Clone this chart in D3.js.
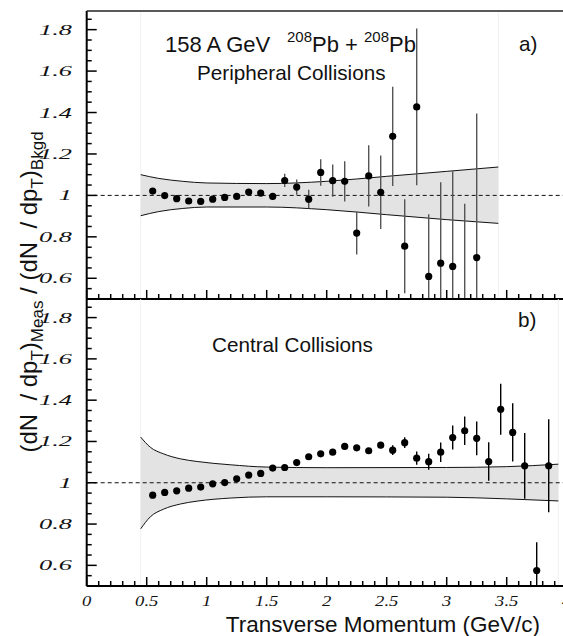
<!DOCTYPE html>
<html>
<head>
<meta charset="utf-8">
<script src="https://cdn.jsdelivr.net/npm/d3@7"></script>
<style>
  body { margin: 0; background: #fff; }
  svg { display: block; }
  .lbl { font-family: "Liberation Sans", Arial, sans-serif; fill: #111; white-space: pre; }
  .tick { font-family: "Liberation Serif", "Times New Roman", serif; font-style: italic; fill: #111; }
</style>
</head>
<body>
<div id="chart"></div>
<script>
// pT bin centres
const ptA = [0.55, 0.65, 0.75, 0.85, 0.95, 1.05, 1.15, 1.25, 1.35, 1.45, 1.55, 1.65, 1.75, 1.85, 1.95, 2.05,
  2.15, 2.25, 2.35, 2.45, 2.55, 2.65, 2.75, 2.85, 2.95, 3.05, 3.15, 3.25];
const ratioA = [1.021, 0.999, 0.984, 0.973, 0.971, 0.982, 0.990, 0.995, 1.016, 1.011, 0.995, 1.072, 1.040, 0.982,
  1.111, 1.071, 1.068, 0.818, 1.094, 1.015, 1.285, 0.755, 1.427, 0.609, 0.673, 0.657, 0.45, 0.700];
const errA = [0.006, 0.005, 0.005, 0.005, 0.005, 0.005, 0.006, 0.006, 0.008, 0.010, 0.016, 0.032, 0.037, 0.045,
  0.064, 0.078, 0.097, 0.103, 0.148, 0.177, 0.240, 0.227, 0.378, 0.30, 0.39, 0.46, 0.51, 0.695];

const ptB = [0.55, 0.65, 0.75, 0.85, 0.95, 1.05, 1.15, 1.25, 1.35, 1.45, 1.55, 1.65, 1.75, 1.85, 1.95, 2.05,
  2.15, 2.25, 2.35, 2.45, 2.55, 2.65, 2.75, 2.85, 2.95, 3.05, 3.15, 3.25, 3.35, 3.45, 3.55, 3.65, 3.75, 3.85];
const ratioB = [0.940, 0.953, 0.961, 0.974, 0.979, 0.995, 1.001, 1.019, 1.037, 1.045, 1.071, 1.074, 1.098, 1.126,
  1.140, 1.148, 1.176, 1.169, 1.155, 1.182, 1.158, 1.194, 1.119, 1.102, 1.148, 1.219, 1.252, 1.215, 1.103,
  1.356, 1.244, 1.082, 0.575, 1.082];
const errB = [0.003, 0.003, 0.003, 0.003, 0.003, 0.003, 0.004, 0.004, 0.004, 0.005, 0.005, 0.006, 0.007, 0.008,
  0.009, 0.010, 0.011, 0.012, 0.013, 0.015, 0.024, 0.026, 0.032, 0.039, 0.047, 0.058, 0.069, 0.082, 0.093,
  0.124, 0.141, 0.159, 0.137, 0.225];

// background uncertainty bands
const bandPtA = [0.45, 0.6, 0.8, 1.0, 1.5, 2.0, 2.5, 3.0, 3.43];
const bandHiA = [1.100, 1.082, 1.068, 1.060, 1.057, 1.068, 1.092, 1.116, 1.137];
const bandLoA = [0.902, 0.922, 0.937, 0.944, 0.944, 0.931, 0.907, 0.883, 0.865];

const bandPtB = [0.45, 0.53, 0.64, 0.78, 0.92, 1.2, 1.5, 2.0, 3.0, 3.5, 3.93];
const bandHiB = [1.221, 1.172, 1.140, 1.116, 1.103, 1.087, 1.076, 1.073, 1.074, 1.078, 1.090];
const bandLoB = [0.777, 0.835, 0.872, 0.897, 0.911, 0.926, 0.932, 0.932, 0.930, 0.922, 0.912];

const xMajor = [0, 0.5, 1, 1.5, 2, 2.5, 3, 3.5, 4];
const yMajor = [0.6, 0.8, 1, 1.2, 1.4, 1.6, 1.8];

const W = 563, H = 636;
const svg = d3.select('#chart').append('svg').attr('width', W).attr('height', H);

const x = d3.scaleLinear().domain([0, 4]).range([86.7, 566.7]);
const yA = d3.scaleLinear().domain([0.5, 1.89]).range([299, 11]);
const yB = d3.scaleLinear().domain([0.5, 1.89]).range([586, 299]);

function panel(id, y, pts, vals, errs, bPt, bHi, bLo, errColor) {
  const top = y.range()[1], bot = y.range()[0];
  svg.append('clipPath').attr('id', id)
    .append('rect').attr('x', x(0)).attr('y', top).attr('width', x(4) - x(0)).attr('height', bot - top);
  const g = svg.append('g').attr('clip-path', 'url(#' + id + ')');

  const band = bPt.map((p, i) => ({ p: p, hi: bHi[i], lo: bLo[i] }));
  // faint edges of the band down to the axis
  [bPt[0], bPt[bPt.length - 1]].forEach(p => {
    g.append('line').attr('x1', x(p)).attr('x2', x(p)).attr('y1', top).attr('y2', bot)
      .attr('stroke', '#f0f0f0').attr('stroke-width', 1);
  });
  g.append('path').datum(band)
    .attr('d', d3.area().x(d => x(d.p)).y0(d => y(d.lo)).y1(d => y(d.hi)).curve(d3.curveMonotoneX))
    .attr('fill', '#e3e3e3');
  ['hi', 'lo'].forEach(k => {
    g.append('path').datum(band)
      .attr('d', d3.line().x(d => x(d.p)).y(d => y(d[k])).curve(d3.curveMonotoneX))
      .attr('fill', 'none').attr('stroke', '#111').attr('stroke-width', 1);
  });

  g.append('line').attr('x1', x(0)).attr('x2', x(4)).attr('y1', y(1)).attr('y2', y(1))
    .attr('stroke', '#111').attr('stroke-width', 1).attr('stroke-dasharray', '4,3');

  const data = pts.map((p, i) => ({ p: p, v: vals[i], e: errs[i] }));
  g.selectAll('.err').data(data).enter().append('line')
    .attr('x1', d => x(d.p)).attr('x2', d => x(d.p))
    .attr('y1', d => y(d.v - d.e)).attr('y2', d => y(d.v + d.e))
    .attr('stroke', errColor).attr('stroke-width', 1.4);
  g.selectAll('.pt').data(data).enter().append('circle')
    .attr('cx', d => x(d.p)).attr('cy', d => y(d.v)).attr('r', 3.6).attr('fill', '#000');

  // inward ticks
  const yMinor = d3.range(0.5, 1.9, 0.05).map(v => +v.toFixed(2));
  yMinor.forEach(v => {
    const major = yMajor.includes(v);
    svg.append('line').attr('x1', x(0)).attr('x2', x(0) + (major ? 10 : 5))
      .attr('y1', y(v)).attr('y2', y(v)).attr('stroke', '#000').attr('stroke-width', 1.5);
  });
  d3.range(0, 4.01, 0.1).map(v => +v.toFixed(1)).forEach(v => {
    const major = xMajor.includes(v);
    svg.append('line').attr('x1', x(v)).attr('x2', x(v))
      .attr('y1', bot).attr('y2', bot - (major ? 9 : 5)).attr('stroke', '#000').attr('stroke-width', 1.5);
  });
  // wide italic tick labels
  svg.selectAll(null).data(yMajor).enter().append('text').attr('class', 'tick')
    .attr('transform', d => 'translate(72,' + (y(d) + 5) + ') scale(1.7,1)')
    .attr('text-anchor', 'end').attr('font-size', 15.5)
    .text(d => d3.format('~g')(d));

  svg.append('line').attr('x1', x(0)).attr('x2', x(0)).attr('y1', top).attr('y2', bot)
    .attr('stroke', '#000').attr('stroke-width', 2);
  svg.append('line').attr('x1', x(0)).attr('x2', x(4)).attr('y1', bot).attr('y2', bot)
    .attr('stroke', '#000').attr('stroke-width', 2);
}

panel('clipA', yA, ptA, ratioA, errA, bandPtA, bandHiA, bandLoA, '#555');
panel('clipB', yB, ptB, ratioB, errB, bandPtB, bandHiB, bandLoB, '#000');

// top frame line
svg.append('line').attr('x1', x(0)).attr('x2', x(4)).attr('y1', 11).attr('y2', 11)
  .attr('stroke', '#222').attr('stroke-width', 1.5);

// x tick labels
svg.selectAll(null).data(xMajor).enter().append('text').attr('class', 'tick')
  .attr('transform', d => 'translate(' + x(d) + ',606) scale(1.2,1)')
  .attr('text-anchor', 'middle').attr('font-size', 15.5)
  .text(d => d3.format('~g')(d));

// annotations
const t1 = svg.append('text').attr('class', 'lbl').attr('y', 52).attr('font-size', 22);
t1.append('tspan').attr('x', 165).text('158 A GeV');
t1.append('tspan').attr('x', 287).attr('font-size', 15).attr('dy', -10).text('208');
t1.append('tspan').attr('dy', 10).text('Pb + ');
t1.append('tspan').attr('font-size', 15).attr('dy', -10).text('208');
t1.append('tspan').attr('dy', 10).text('Pb');

svg.append('text').attr('class', 'lbl').attr('x', 197).attr('y', 80).attr('font-size', 20.7).text('Peripheral Collisions');
svg.append('text').attr('class', 'lbl').attr('x', 519).attr('y', 51).attr('font-size', 20.7).text('a)');
svg.append('text').attr('class', 'lbl').attr('x', 518).attr('y', 327).attr('font-size', 20.7).text('b)');
svg.append('text').attr('class', 'lbl').attr('x', 212).attr('y', 352).attr('font-size', 20.7).text('Central Collisions');

svg.append('text').attr('class', 'lbl').attr('x', 540).attr('y', 632).attr('text-anchor', 'end')
  .attr('font-size', 22.5).text('Transverse Momentum (GeV/c)');

// y axis title
const yt = svg.append('text').attr('class', 'lbl').attr('transform', 'translate(37,292) rotate(-90)')
  .attr('text-anchor', 'middle').attr('font-size', 24);
yt.append('tspan').text('(dN  / dp');
yt.append('tspan').attr('font-size', 17).attr('dy', 6).text('T');
yt.append('tspan').attr('dy', -6).text(')');
yt.append('tspan').attr('font-size', 17).attr('dy', 6).text('Meas');
yt.append('tspan').attr('dy', -6).text(' / (dN  / dp');
yt.append('tspan').attr('font-size', 17).attr('dy', 6).text('T');
yt.append('tspan').attr('dy', -6).text(')');
yt.append('tspan').attr('font-size', 17).attr('dy', 6).text('Bkgd');
</script>
</body>
</html>
